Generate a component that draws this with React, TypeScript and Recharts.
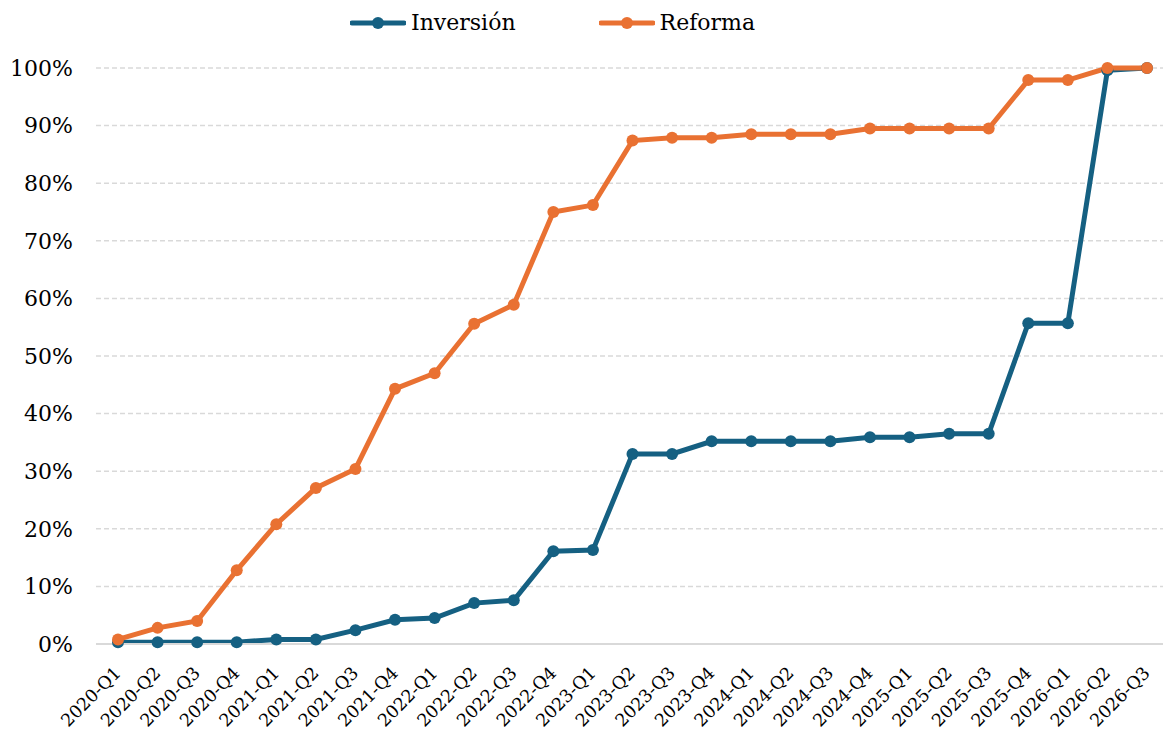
import React from "react";
import { LineChart, Line, XAxis, YAxis, CartesianGrid, Legend } from "recharts";

const categories = [
  "2020-Q1", "2020-Q2", "2020-Q3", "2020-Q4",
  "2021-Q1", "2021-Q2", "2021-Q3", "2021-Q4",
  "2022-Q1", "2022-Q2", "2022-Q3", "2022-Q4",
  "2023-Q1", "2023-Q2", "2023-Q3", "2023-Q4",
  "2024-Q1", "2024-Q2", "2024-Q3", "2024-Q4",
  "2025-Q1", "2025-Q2", "2025-Q3", "2025-Q4",
  "2026-Q1", "2026-Q2", "2026-Q3",
];

const inversion = [
  0.3, 0.3, 0.3, 0.3,
  0.8, 0.8, 2.4, 4.2,
  4.5, 7.1, 7.6, 16.1,
  16.3, 33.0, 33.0, 35.2,
  35.2, 35.2, 35.2, 35.9,
  35.9, 36.5, 36.5, 55.7,
  55.7, 99.6, 100,
];

const reforma = [
  0.8, 2.8, 4.0, 12.8,
  20.8, 27.1, 30.4, 44.3,
  47.0, 55.6, 58.9, 75.0,
  76.2, 87.4, 87.9, 87.9,
  88.5, 88.5, 88.5, 89.5,
  89.5, 89.5, 89.5, 97.9,
  97.9, 100, 100,
];

const yTicks = [0, 10, 20, 30, 40, 50, 60, 70, 80, 90, 100];

const seriesNames = { inv: "Inversión", ref: "Reforma" };
const colors = { inv: "#156082", ref: "#E97132" };

const data = categories.map((c, i) => ({
  cat: c,
  inv: inversion[i],
  ref: reforma[i],
}));

const FONT = "DejaVu Serif";

const XTick = (props: any) => {
  const { x, y, payload } = props;
  return (
    <g transform={`translate(${x + 4},${y + 22})`}>
      <text
        x={0}
        y={0}
        textAnchor="end"
        transform="rotate(-45)"
        fontFamily={FONT}
        fontSize={17.5}
        fill="#000"
      >
        {payload.value}
      </text>
    </g>
  );
};

const renderLegend = (props: any) => {
  const { payload } = props;
  return (
    <div style={{ display: "flex", paddingLeft: 350, alignItems: "center", height: 46 }}>
      {payload.map((p: any, i: number) => (
        <div
          key={i}
          style={{ display: "flex", alignItems: "center", marginRight: i === 0 ? 83 : 0 }}
        >
          <svg width={56} height={14} style={{ display: "block" }}>
            <line x1={2} y1={7} x2={54} y2={7} stroke={p.color} strokeWidth={5} strokeLinecap="round" />
            <circle cx={28} cy={7} r={6} fill={p.color} />
          </svg>
          <span
            style={{
              fontFamily: FONT,
              fontSize: 22,
              color: "#000",
              marginLeft: 5,
              lineHeight: "30px",
            }}
          >
            {p.value}
          </span>
        </div>
      ))}
    </div>
  );
};

export default function App() {
  return (
    <div style={{ position: "absolute", left: 0, top: 0, width: 1163, height: 730, background: "#fff" }}>
      <LineChart
        width={1163}
        height={730}
        data={data}
        margin={{ top: 68, right: 0, bottom: 0, left: 0 }}
      >
        <CartesianGrid
          vertical={false}
          horizontal={true}
          stroke="#d9d9d9"
          strokeWidth={1.5}
          strokeDasharray="5 3"
        />
        <XAxis
          dataKey="cat"
          height={86}
          interval={0}
          padding={{ left: 22, right: 16 }}
          tickLine={false}
          axisLine={{ stroke: "#d9d9d9", strokeWidth: 2 }}
          tick={<XTick />}
        />
        <YAxis
          width={96}
          domain={[0, 100]}
          ticks={yTicks}
          interval={0}
          tickLine={false}
          axisLine={false}
          tickSize={6}
          tickMargin={17}
          tickFormatter={(v: number) => `${v}%`}
          tick={{ fontFamily: FONT, fontSize: 22, fill: "#000" }}
        />
        <Legend
          verticalAlign="middle"
          align="center"
          layout="horizontal"
          wrapperStyle={{ top: 0, left: 0, width: 1163 }}
          content={renderLegend}
        />
        <Line
          type="linear"
          dataKey="inv"
          name={seriesNames.inv}
          stroke={colors.inv}
          strokeWidth={5}
          dot={{ r: 6, fill: colors.inv, stroke: "none" }}
          activeDot={false}
          isAnimationActive={false}
        />
        <Line
          type="linear"
          dataKey="ref"
          name={seriesNames.ref}
          stroke={colors.ref}
          strokeWidth={5}
          dot={{ r: 6, fill: colors.ref, stroke: "none" }}
          activeDot={false}
          isAnimationActive={false}
        />
      </LineChart>
    </div>
  );
}
